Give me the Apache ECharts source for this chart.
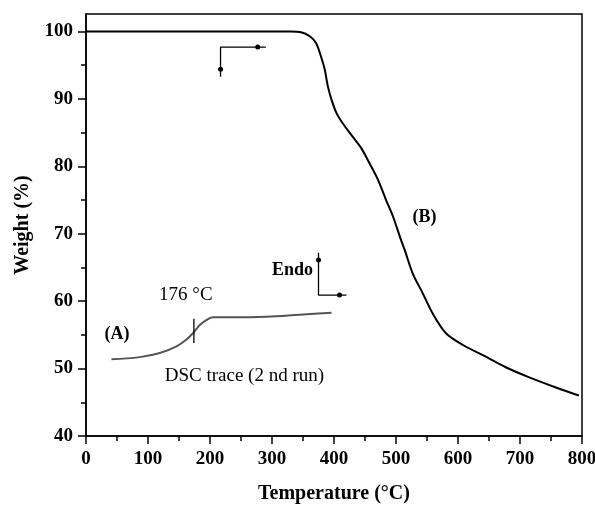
<!DOCTYPE html>
<html>
<head>
<meta charset="utf-8">
<script src="https://cdn.jsdelivr.net/npm/echarts@6/dist/echarts.min.js"></script>
<style>
  html, body { margin: 0; background: #fff; }
  #chart { width: 595px; height: 507px; }
</style>
</head>
<body>
<div id="chart"></div>
<script>
// TGA curve (B)
const tgaTemp = [0, 100, 200, 300, 330, 347, 361, 371, 379, 385, 390, 396, 404, 414, 430, 444, 457, 471, 484, 495, 508, 514, 527, 543, 559, 581, 608, 640, 677, 715, 758, 795]
const tgaWeight = [100, 100, 100, 100, 100, 99.9, 99.3, 98.3, 96.3, 94.4, 91.9, 89.9, 87.9, 86.4, 84.4, 82.7, 80.5, 78.0, 75.0, 72.6, 69.1, 67.6, 64.1, 61.2, 58.2, 55.2, 53.5, 52.0, 50.2, 48.7, 47.2, 46.0]

// DSC trace (A), plotted on the same scale
const dscTemp = [41, 87, 119, 146, 162, 173, 184, 194, 205, 237, 291, 345, 396]
const dscValue = [51.4, 51.7, 52.3, 53.3, 54.3, 55.3, 56.5, 57.2, 57.6, 57.6, 57.7, 58.0, 58.3]

// Tg marker at 176 °C
const onsetTemp = 174
const onsetRange = [53.8, 57.4]

// direction arrows
const heatArrow = [[290, 97.7], [217, 97.7], [217, 93.3]]
const heatDots = [[277, 97.7], [217, 94.4]]
const endoArrow = [[375, 67.2], [375, 60.9], [420, 60.9]]
const endoDots = [[375, 66.1], [409, 60.9]]

// ticks
const yTicks = [40, 50, 60, 70, 80, 90, 100]
const yMinorTicks = [45, 55, 65, 75, 85, 95]

// annotations [x, y, text]
const notes = [
  [161, 60.9, '176 °C'],
  [50, 55.1, '(A)'],
  [127, 48.9, 'DSC trace (2 nd run)'],
  [546, 72.5, '(B)'],
  [366, 64.6, 'Endo']
]
const noteBold = ['(A)', '(B)', 'Endo']

const serif = 'Liberation Serif'
const zip = (a, b) => a.map((v, i) => [v, b[i]])

const chart = echarts.init(document.getElementById('chart'))

const option = {
  animation: false,
  grid: {
    left: 86, right: 13, top: 14, bottom: 71,
    outerBoundsMode: 'none',
    show: true, borderColor: '#000', borderWidth: 1.5
  },
  xAxis: {
    type: 'value',
    min: 0,
    max: 800,
    interval: 100,
    name: 'Temperature (°C)',
    nameLocation: 'middle',
    nameGap: 48,
    nameTextStyle: { fontFamily: serif, fontWeight: 'bold', fontSize: 20, color: '#000' },
    axisLine: { lineStyle: { color: '#000', width: 1.5 } },
    axisTick: { inside: false, length: 8, lineStyle: { color: '#000', width: 1.5 } },
    minorTick: { show: true, splitNumber: 2, length: 5, lineStyle: { color: '#000', width: 1.5 } },
    axisLabel: { margin: 14, fontFamily: serif, fontWeight: 'bold', fontSize: 19, color: '#000' },
    splitLine: { show: false }
  },
  yAxis: [
    {
      type: 'value',
      min: 40,
      max: 102.6,
      name: 'Weight (%)',
      nameLocation: 'middle',
      nameGap: 53,
      nameTextStyle: { fontFamily: serif, fontWeight: 'bold', fontSize: 20, color: '#000' },
      axisLine: { lineStyle: { color: '#000', width: 1.5 } },
      axisTick: { inside: false, length: 8, customValues: yTicks, lineStyle: { color: '#000', width: 1.5 } },
      axisLabel: { margin: 13, customValues: yTicks, fontFamily: serif, fontWeight: 'bold', fontSize: 19, color: '#000' },
      splitLine: { show: false }
    },
    {
      type: 'value',
      position: 'left',
      min: 40,
      max: 102.6,
      axisLine: { show: false },
      axisTick: { inside: false, length: 5, customValues: yMinorTicks, lineStyle: { color: '#000', width: 1.5 } },
      axisLabel: { show: false },
      splitLine: { show: false }
    }
  ],
  series: [
    {
      name: 'TGA',
      type: 'line',
      data: zip(tgaTemp, tgaWeight),
      smooth: 0.3,
      symbol: 'none',
      lineStyle: { color: '#000', width: 2 }
    },
    {
      name: 'DSC',
      type: 'line',
      data: zip(dscTemp, dscValue),
      smooth: 0.4,
      symbol: 'none',
      lineStyle: { color: '#555', width: 2 }
    },
    {
      name: 'onset',
      type: 'line',
      data: onsetRange.map(v => [onsetTemp, v]),
      symbol: 'none',
      lineStyle: { color: '#000', width: 1.3 }
    },
    {
      name: 'heat arrow',
      type: 'line',
      data: heatArrow,
      symbol: 'none',
      lineStyle: { color: '#000', width: 1.3 }
    },
    {
      name: 'endo arrow',
      type: 'line',
      data: endoArrow,
      symbol: 'none',
      lineStyle: { color: '#000', width: 1.3 }
    },
    {
      name: 'arrow dots',
      type: 'scatter',
      data: heatDots.concat(endoDots),
      symbol: 'circle',
      symbolSize: 5,
      itemStyle: { color: '#000', opacity: 1 }
    },
    {
      name: 'notes',
      type: 'scatter',
      symbolSize: 0,
      itemStyle: { opacity: 1 },
      data: notes.map(n => ({
        value: [n[0], n[1]],
        label: {
          show: true,
          position: 'inside',
          align: n[2] === 'Endo' ? 'right' : (n[2].startsWith('DSC') ? 'left' : 'center'),
          formatter: n[2],
          fontFamily: serif,
          fontWeight: noteBold.includes(n[2]) ? 'bold' : 'normal',
          fontSize: noteBold.includes(n[2]) ? 18 : 19,
          color: '#000'
        }
      }))
    }
  ]
}

chart.setOption(option)
</script>
</body>
</html>
